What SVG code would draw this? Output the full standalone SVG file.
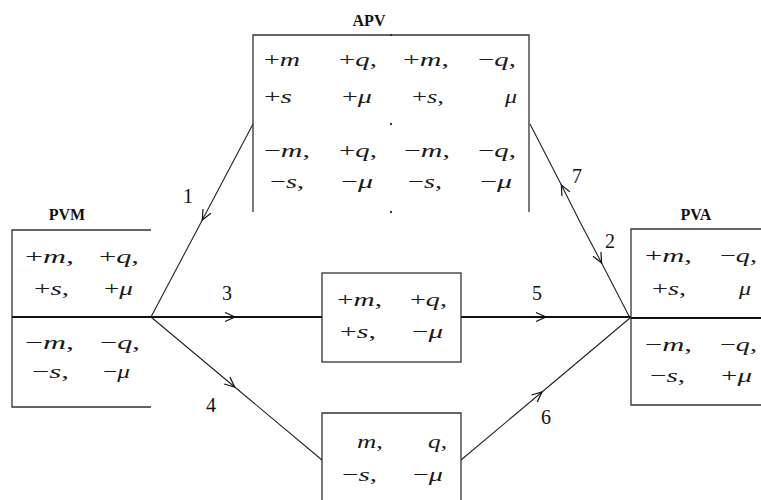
<svg xmlns="http://www.w3.org/2000/svg" width="761" height="500" viewBox="0 0 761 500">
<defs>
<style>
.t{font-family:'Liberation Serif','Times New Roman','DejaVu Serif',serif;font-size:19px;fill:#1a1a1a}
.i{font-style:italic}
.h{font-family:'Liberation Serif','Times New Roman','DejaVu Serif',serif;font-size:16px;font-weight:bold;fill:#111;text-anchor:middle}
.n{font-family:'Liberation Serif','Times New Roman','DejaVu Serif',serif;font-size:20px;fill:#111}
.b{fill:none;stroke:#333;stroke-width:1.3}
.c{fill:none;stroke:#222;stroke-width:1.1}
.w{fill:none;stroke:#111;stroke-width:2}
</style>
<marker id="ah" markerUnits="userSpaceOnUse" markerWidth="14" markerHeight="12" viewBox="-12 -6 14 12" refX="0" refY="0" orient="auto">
<path d="M -10 -4.5 L 0 0 L -10 4.5" fill="none" stroke="#111" stroke-width="1.2"/>
</marker>
</defs>
<rect width="761" height="500" fill="#fff"/>

<g id="connectors">
<path class="c" d="M 253 124 L 202.3 220 L 151 317" marker-mid="url(#ah)"/>
<path class="c" d="M 580 222 L 561.4 185 L 530 124" marker-mid="url(#ah)"/>
<path class="c" d="M 580 222 L 601.6 263 L 630 318" marker-mid="url(#ah)"/>
<path class="w" d="M 151 317 L 235 317 L 322 317" marker-mid="url(#ah)"/>
<path class="w" d="M 461 317 L 546 317 L 631 317" marker-mid="url(#ah)"/>
<path class="c" d="M 151 317 L 234.7 387 L 322 460" marker-mid="url(#ah)"/>
<path class="c" d="M 461 460 L 542 392 L 630 318" marker-mid="url(#ah)"/>
<text class="n" x="183" y="203">1</text>
<text class="n" x="605" y="248">2</text>
<text class="n" x="222" y="300">3</text>
<text class="n" x="206" y="412">4</text>
<text class="n" x="532" y="300">5</text>
<text class="n" x="541" y="424">6</text>
<text class="n" x="572" y="183">7</text>
</g>

<g id="APV">
<text class="h" x="369" y="26">APV</text>
<path class="b" d="M 253 212 L 253 35 L 529 35 L 529 212"/>
<rect x="390" y="34" width="2" height="2" fill="#333"/>
<rect x="390" y="123" width="2" height="2" fill="#333"/>
<rect x="390" y="211" width="2" height="2" fill="#333"/>
<text class="t" x="264" y="66" textLength="36" lengthAdjust="spacingAndGlyphs">+<tspan class="i">m</tspan></text>
<text class="t" x="339" y="66" textLength="38" lengthAdjust="spacingAndGlyphs">+<tspan class="i">q</tspan>,</text>
<text class="t" x="403" y="66" textLength="46" lengthAdjust="spacingAndGlyphs">+<tspan class="i">m</tspan>,</text>
<text class="t" x="478" y="66" textLength="38" lengthAdjust="spacingAndGlyphs">−<tspan class="i">q</tspan>,</text>
<text class="t" x="264" y="103" textLength="28" lengthAdjust="spacingAndGlyphs">+<tspan class="i">s</tspan></text>
<text class="t" x="342" y="103" textLength="30" lengthAdjust="spacingAndGlyphs">+<tspan class="i">μ</tspan></text>
<text class="t" x="412" y="103" textLength="32" lengthAdjust="spacingAndGlyphs">+<tspan class="i">s</tspan>,</text>
<text class="t" x="505" y="103" textLength="12" lengthAdjust="spacingAndGlyphs"><tspan class="i">μ</tspan></text>
<text class="t" x="264" y="157" textLength="46" lengthAdjust="spacingAndGlyphs">−<tspan class="i">m</tspan>,</text>
<text class="t" x="339" y="157" textLength="38" lengthAdjust="spacingAndGlyphs">+<tspan class="i">q</tspan>,</text>
<text class="t" x="404" y="157" textLength="46" lengthAdjust="spacingAndGlyphs">−<tspan class="i">m</tspan>,</text>
<text class="t" x="478" y="157" textLength="38" lengthAdjust="spacingAndGlyphs">−<tspan class="i">q</tspan>,</text>
<text class="t" x="270" y="188" textLength="34" lengthAdjust="spacingAndGlyphs">−<tspan class="i">s</tspan>,</text>
<text class="t" x="341" y="188" textLength="32" lengthAdjust="spacingAndGlyphs">−<tspan class="i">μ</tspan></text>
<text class="t" x="408" y="188" textLength="34" lengthAdjust="spacingAndGlyphs">−<tspan class="i">s</tspan>,</text>
<text class="t" x="480" y="188" textLength="32" lengthAdjust="spacingAndGlyphs">−<tspan class="i">μ</tspan></text>
</g>

<g id="PVM">
<text class="h" x="67" y="220">PVM</text>
<path class="b" d="M 151 230 L 12 230 L 12 407 L 151 407"/>
<path class="w" d="M 12 317 L 151 317"/>
<text class="t" x="25" y="263" textLength="49" lengthAdjust="spacingAndGlyphs">+<tspan class="i">m</tspan>,</text>
<text class="t" x="99" y="263" textLength="40" lengthAdjust="spacingAndGlyphs">+<tspan class="i">q</tspan>,</text>
<text class="t" x="34" y="295" textLength="35" lengthAdjust="spacingAndGlyphs">+<tspan class="i">s</tspan>,</text>
<text class="t" x="104" y="295" textLength="29" lengthAdjust="spacingAndGlyphs">+<tspan class="i">μ</tspan></text>
<text class="t" x="25" y="349" textLength="49" lengthAdjust="spacingAndGlyphs">−<tspan class="i">m</tspan>,</text>
<text class="t" x="100" y="349" textLength="40" lengthAdjust="spacingAndGlyphs">−<tspan class="i">q</tspan>,</text>
<text class="t" x="32" y="378" textLength="37" lengthAdjust="spacingAndGlyphs">−<tspan class="i">s</tspan>,</text>
<text class="t" x="103" y="378" textLength="27" lengthAdjust="spacingAndGlyphs">−<tspan class="i">μ</tspan></text>
</g>

<g id="PVA">
<text class="h" x="696" y="220">PVA</text>
<path class="b" d="M 761 229 L 631 229 L 631 405 L 761 405"/>
<path class="w" d="M 631 318 L 761 318"/>
<text class="t" x="645" y="262" textLength="47" lengthAdjust="spacingAndGlyphs">+<tspan class="i">m</tspan>,</text>
<text class="t" x="720" y="262" textLength="37" lengthAdjust="spacingAndGlyphs">−<tspan class="i">q</tspan>,</text>
<text class="t" x="652" y="295" textLength="34" lengthAdjust="spacingAndGlyphs">+<tspan class="i">s</tspan>,</text>
<text class="t" x="739" y="295" textLength="12" lengthAdjust="spacingAndGlyphs"><tspan class="i">μ</tspan></text>
<text class="t" x="645" y="351" textLength="47" lengthAdjust="spacingAndGlyphs">−<tspan class="i">m</tspan>,</text>
<text class="t" x="720" y="351" textLength="37" lengthAdjust="spacingAndGlyphs">−<tspan class="i">q</tspan>,</text>
<text class="t" x="650" y="382" textLength="35" lengthAdjust="spacingAndGlyphs">−<tspan class="i">s</tspan>,</text>
<text class="t" x="721" y="382" textLength="31" lengthAdjust="spacingAndGlyphs">+<tspan class="i">μ</tspan></text>
</g>

<g id="mid">
<rect class="b" x="322" y="273" width="139" height="89"/>
<text class="t" x="337" y="306" textLength="45" lengthAdjust="spacingAndGlyphs">+<tspan class="i">m</tspan>,</text>
<text class="t" x="410" y="306" textLength="37" lengthAdjust="spacingAndGlyphs">+<tspan class="i">q</tspan>,</text>
<text class="t" x="340" y="338" textLength="36" lengthAdjust="spacingAndGlyphs">+<tspan class="i">s</tspan>,</text>
<text class="t" x="412" y="338" textLength="31" lengthAdjust="spacingAndGlyphs">−<tspan class="i">μ</tspan></text>
</g>

<g id="low">
<path class="b" d="M 322 500 L 322 413 L 461 413 L 461 500"/>
<text class="t" x="357" y="448" textLength="26" lengthAdjust="spacingAndGlyphs"><tspan class="i">m</tspan>,</text>
<text class="t" x="428" y="448" textLength="19" lengthAdjust="spacingAndGlyphs"><tspan class="i">q</tspan>,</text>
<text class="t" x="342" y="481" textLength="35" lengthAdjust="spacingAndGlyphs">−<tspan class="i">s</tspan>,</text>
<text class="t" x="413" y="481" textLength="30" lengthAdjust="spacingAndGlyphs">−<tspan class="i">μ</tspan></text>
</g>
</svg>
